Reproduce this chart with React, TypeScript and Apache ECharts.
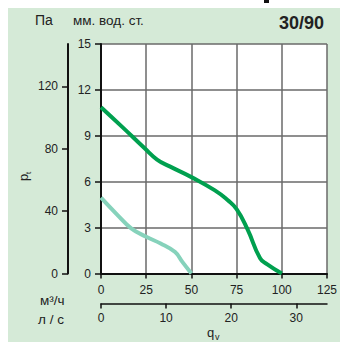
import React, { useEffect, useRef } from "react";
import * as echarts from "echarts";

const xTicksM3h = [0, 25, 50, 75, 100, 125];
const yTicksMm = [0, 3, 6, 9, 12, 15];
const yTicksPa = [0, 40, 80, 120];
const xTicksLs = [0, 10, 20, 30];

const darkX = [0, 12, 24, 31, 38, 50, 63, 70, 75, 81, 88, 92, 100];
const darkY = [10.87, 9.55, 8.2, 7.45, 7.0, 6.3, 5.43, 4.8, 4.2, 2.9, 1.0, 0.6, 0];
const lightX = [0, 8.5, 16.7, 25, 33, 41, 45, 50];
const lightY = [4.96, 3.9, 2.95, 2.4, 1.96, 1.4, 0.76, 0];

const FONT = "'Liberation Sans', Arial, sans-serif";
const TXT = "#222";

export default function App() {
  const ref = useRef<HTMLDivElement>(null);
  useEffect(() => {
    if (!ref.current) return;
    const chart = echarts.init(ref.current, null, { renderer: "svg" });
    const label = { fontSize: 12, color: TXT, fontFamily: FONT };
    chart.setOption({
      animation: false,
      backgroundColor: "#fff",
      grid: { left: 101, top: 44, width: 229, height: 229.5, backgroundColor: "#fff", show: true, borderWidth: 0 },
      xAxis: [
        {
          type: "value", min: 0, max: 125, interval: 25, position: "bottom",
          axisLine: { show: true, lineStyle: { color: "#111", width: 2 } },
          axisTick: { show: true, inside: false, length: 5, lineStyle: { color: "#111", width: 1.5 } },
          axisLabel: { ...label, margin: 10, formatter: (v: number) => (xTicksM3h.includes(v) ? String(v) : "") },
          splitLine: { show: true, lineStyle: { color: "#6a6a6a", width: 1.5 } },
        },
        {
          type: "value", min: 0, max: 125 / 3.6, interval: 10, position: "bottom", offset: 30,
          axisLine: { show: true, onZero: false, lineStyle: { color: "#111", width: 1.5 } },
          axisTick: { show: true, inside: false, length: 5, lineStyle: { color: "#111", width: 1.5 }, customValues: xTicksLs },
          axisLabel: { ...label, margin: 8, customValues: xTicksLs },
          splitLine: { show: false },
        },
      ],
      yAxis: [
        {
          type: "value", min: 0, max: 15, interval: 3, position: "left",
          axisLine: { show: true, lineStyle: { color: "#111", width: 2 } },
          axisTick: { show: true, inside: false, length: 6, lineStyle: { color: "#111", width: 1.5 } },
          axisLabel: { ...label, margin: 10, formatter: (v: number) => (yTicksMm.includes(v) ? String(v) : "") },
          splitLine: { show: true, lineStyle: { color: "#6a6a6a", width: 1.5 } },
        },
        {
          type: "value", min: 0, max: 15 * 9.80665, interval: 40, position: "left", offset: 33,
          axisLine: { show: true, onZero: false, lineStyle: { color: "#111", width: 2 } },
          axisTick: { show: true, inside: false, length: 6, lineStyle: { color: "#111", width: 1.5 }, customValues: yTicksPa },
          axisLabel: { ...label, margin: 10, customValues: yTicksPa },
          splitLine: { show: false },
        },
      ],
      series: [
        {
          type: "line", xAxisIndex: 0, yAxisIndex: 0, smooth: 0.4, symbol: "none",
          lineStyle: { color: "#86d2bb", width: 4 },
          data: lightX.map((x, i) => [x, lightY[i]]),
        },
        {
          type: "line", xAxisIndex: 0, yAxisIndex: 0, smooth: 0.5, symbol: "none",
          lineStyle: { color: "#00a04f", width: 4 },
          data: darkX.map((x, i) => [x, darkY[i]]),
        },
      ],
      graphic: [
        { type: "rect", z: -10, silent: true, shape: { x: 8, y: 8, width: 332, height: 334 }, style: { fill: "#d5ead7" } },
        { type: "rect", z: 10, shape: { x: 264, y: 0, width: 5, height: 3 }, style: { fill: "#111" } },
        { type: "text", x: 35, y: 27, style: { text: "Па", fontSize: 14, fontFamily: FONT, fill: TXT, textVerticalAlign: "bottom" } },
        { type: "text", x: 73, y: 27, style: { text: "мм. вод. ст.", fontSize: 13.5, fontFamily: FONT, fill: TXT, textVerticalAlign: "bottom" } },
        { type: "text", x: 324, y: 32, style: { text: "30/90", fontSize: 18, fontWeight: "bold", fontFamily: FONT, fill: TXT, textAlign: "right", textVerticalAlign: "bottom" } },
        { type: "text", x: 40, y: 307, style: { text: "м³/ч", fontSize: 13.5, fontFamily: FONT, fill: TXT, textVerticalAlign: "bottom" } },
        { type: "text", x: 38, y: 326, style: { text: "л / с", fontSize: 13.5, fontFamily: FONT, fill: TXT, textVerticalAlign: "bottom" } },
        { type: "text", x: 207, y: 339, style: { text: "q", fontSize: 13, fontFamily: FONT, fill: TXT, textVerticalAlign: "bottom" } },
        { type: "text", x: 215, y: 341, style: { text: "v", fontSize: 9, fontFamily: FONT, fill: TXT, textVerticalAlign: "bottom" } },
        {
          type: "group", x: 30, y: 181, rotation: Math.PI / 2,
          children: [
            { type: "text", x: 0, y: 0, style: { text: "p", fontSize: 13, fontFamily: FONT, fill: TXT, textVerticalAlign: "bottom" } },
            { type: "text", x: 7, y: 2, style: { text: "t", fontSize: 8, fontFamily: FONT, fill: TXT, textVerticalAlign: "bottom" } },
          ],
        },
      ],
    });
    return () => chart.dispose();
  }, []);
  return <div ref={ref} style={{ position: "absolute", left: 0, top: 0, width: 340, height: 344 }} />;
}
